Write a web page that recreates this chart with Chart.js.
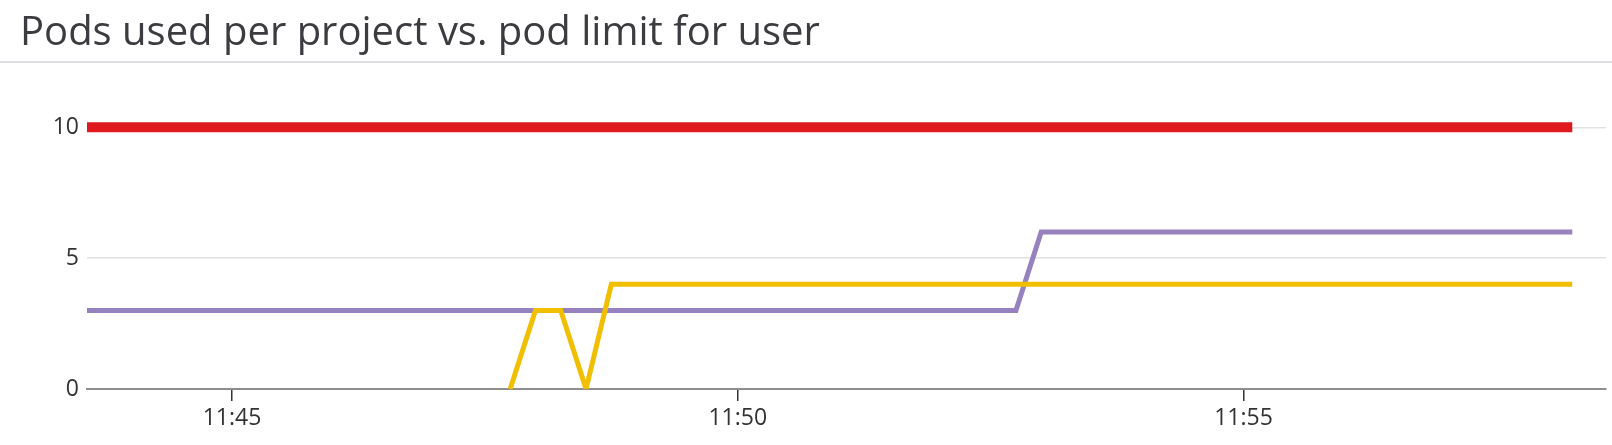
<!DOCTYPE html>
<html>
<head>
<meta charset="utf-8">
<script src="https://cdn.jsdelivr.net/npm/chart.js@4"></script>
<style>
  html, body { margin: 0; padding: 0; background: #fff; }
  body { width: 1612px; height: 445px; position: relative; overflow: hidden; }
  #title {
    position: absolute; left: 20px; top: 3px;
    font-family: "Open Sans", sans-serif; font-size: 40px; line-height: 54px;
    color: #3b3b40; white-space: nowrap;
  }
  #rule { position: absolute; left: 0; top: 61px; width: 1612px; height: 2px; background: #dddde2; }
  #wrap { position: absolute; left: 0; top: 0; width: 1612px; height: 445px; }
</style>
</head>
<body>
<div id="wrap"><canvas id="chart"></canvas></div>
<div id="title">Pods used per project vs. pod limit for user</div>
<div id="rule"></div>
<script>
// time range shown on the x axis
const xMin = '11:43:34';
const xMax = '11:58:35';
const xTickLabels = ['11:45', '11:50', '11:55'];
const yTickValues = [0, 5, 10];

// pod limit for user
const limitTimes = ['11:43:30', '11:58:15'];
const limitValues = [10, 10];

// project A (purple)
const purpleTimes = ['11:43:30', '11:52:45', '11:53:00', '11:58:15'];
const purpleValues = [3, 3, 6, 6];

// project B (yellow)
const yellowTimes = ['11:47:45', '11:48:00', '11:48:15', '11:48:30', '11:48:45', '11:58:15'];
const yellowValues = [0, 3, 3, 0, 4, 4];

function toSec(t) {
    const p = t.split(':').map(Number);
    return p[0] * 3600 + p[1] * 60 + (p[2] || 0);
}

function fmt(sec) {
    const h = Math.floor(sec / 3600);
    const m = Math.floor((sec % 3600) / 60);
    return h + ':' + String(m).padStart(2, '0');
}

function points(times, values) {
    return times.map((t, i) => ({ x: toSec(t), y: values[i] }));
}

const labelFont = { family: 'Open Sans', size: 23 };

new Chart(document.getElementById('chart'), {
    type: 'line',
    data: {
        datasets: [
            { label: 'limit', data: points(limitTimes, limitValues), borderColor: '#de1a1e', borderWidth: 10 },
            { label: 'project b', data: points(yellowTimes, yellowValues), borderColor: '#f0c000', borderWidth: 5 },
            { label: 'project a', data: points(purpleTimes, purpleValues), borderColor: '#9582be', borderWidth: 5 }
        ]
    },
    options: {
        responsive: true,
        maintainAspectRatio: false,
        animation: false,
        datasets: { line: { pointRadius: 0, tension: 0, borderJoinStyle: 'miter', borderCapStyle: 'butt' } },
        layout: { padding: { top: 75, right: 6, left: 0, bottom: 0 } },
        plugins: { legend: { display: false }, tooltip: { enabled: false } },
        scales: {
            x: {
                type: 'linear',
                min: toSec(xMin),
                max: toSec(xMax),
                afterBuildTicks: s => { s.ticks = xTickLabels.map(l => ({ value: toSec(l) })); },
                afterFit: s => { s.height = 56; },
                grid: { drawOnChartArea: false, drawTicks: true, tickLength: 12, color: '#333', lineWidth: 1.5 },
                border: { display: true, color: '#8e8e8e', width: 2 },
                ticks: { color: '#333', font: labelFont, padding: 4, maxRotation: 0, callback: v => fmt(v) }
            },
            y: {
                min: 0,
                max: 12,
                afterBuildTicks: s => { s.ticks = yTickValues.map(v => ({ value: v })); },
                afterFit: s => { s.width = 87; },
                grid: { drawTicks: false, color: c => c.tick.value === 0 ? 'rgba(0,0,0,0)' : '#e2e2e2', lineWidth: 1.5 },
                border: { display: false },
                ticks: { color: '#333', font: labelFont, padding: 8 }
            }
        }
    }
});
</script>
</body>
</html>
